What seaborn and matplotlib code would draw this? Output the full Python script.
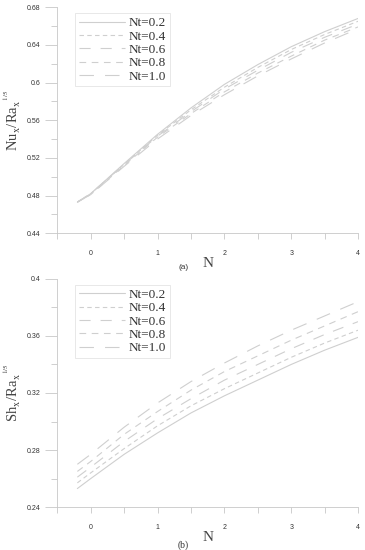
import pandas as pd
import numpy as np
import matplotlib
matplotlib.use('Agg')
import matplotlib.pyplot as plt
from matplotlib.ticker import MultipleLocator, FuncFormatter
import seaborn as sns

# Data
N = [-0.2, 0, 0.5, 1, 1.5, 2, 2.5, 3, 3.5, 4]
nt_labels = ['Nt=0.2', 'Nt=0.4', 'Nt=0.6', 'Nt=0.8', 'Nt=1.0']

# panel (a): Nu_x / Ra_x^(1/5)
nu_02 = [0.473, 0.482, 0.514, 0.545, 0.573, 0.598, 0.619, 0.638, 0.654, 0.668]
nu_04 = [0.473, 0.482, 0.513, 0.544, 0.571, 0.595, 0.616, 0.635, 0.651, 0.665]
nu_06 = [0.473, 0.482, 0.513, 0.543, 0.569, 0.593, 0.613, 0.632, 0.648, 0.662]
nu_08 = [0.473, 0.481, 0.512, 0.542, 0.567, 0.590, 0.610, 0.628, 0.645, 0.659]
nu_10 = [0.473, 0.481, 0.511, 0.540, 0.565, 0.587, 0.607, 0.625, 0.642, 0.657]

# panel (b): Sh_x / Ra_x^(1/5)
sh_02 = [0.253, 0.260, 0.277, 0.292, 0.306, 0.318, 0.329, 0.340, 0.350, 0.359]
sh_04 = [0.257, 0.264, 0.281, 0.297, 0.311, 0.323, 0.334, 0.345, 0.355, 0.364]
sh_06 = [0.261, 0.268, 0.286, 0.302, 0.316, 0.329, 0.340, 0.351, 0.361, 0.370]
sh_08 = [0.265, 0.272, 0.291, 0.307, 0.322, 0.335, 0.346, 0.357, 0.367, 0.377]
sh_10 = [0.270, 0.277, 0.296, 0.313, 0.328, 0.341, 0.353, 0.364, 0.374, 0.384]


def long_form(series):
    rows = []
    for lab, vals in zip(nt_labels, series):
        for x, y in zip(N, vals):
            rows.append({'N': x, 'val': y, 'Nt': lab})
    return pd.DataFrame(rows)


df_a = long_form([nu_02, nu_04, nu_06, nu_08, nu_10])
df_b = long_form([sh_02, sh_04, sh_06, sh_08, sh_10])

sns.set_style('ticks')
plt.rcParams['mathtext.fontset'] = 'stix'

line_col = '#cfcfcf'
spine_col = '#c8c8c8'
palette = {lab: line_col for lab in nt_labels}
dashes = {'Nt=0.2': '', 'Nt=0.4': (4, 3), 'Nt=0.6': (10, 9),
          'Nt=0.8': (6, 5), 'Nt=1.0': (13, 10)}
serif = ['Liberation Serif', 'DejaVu Serif']
sans = ['Liberation Sans', 'DejaVu Sans']

fig = plt.figure(figsize=(3.65, 5.5), dpi=100)
ax_a = fig.add_axes([0.157, 0.576, 0.824, 0.411])
ax_b = fig.add_axes([0.157, 0.078, 0.824, 0.415])

short = FuncFormatter(lambda v, pos: ('%.2f' % v).rstrip('0').rstrip('.'))


def style_axis(ax, df, ylim, ystep, ylabel, tag, tag_family, tag_size, tag_y):
    sns.lineplot(data=df, x='N', y='val', hue='Nt', style='Nt',
                 palette=palette, dashes=dashes, linewidth=0.8, ax=ax)
    ax.set_xlim(-0.5, 4)
    ax.set_ylim(*ylim)
    ax.xaxis.set_major_locator(MultipleLocator(1))
    ax.xaxis.set_minor_locator(MultipleLocator(0.5))
    ax.yaxis.set_major_locator(MultipleLocator(ystep))
    ax.yaxis.set_minor_locator(MultipleLocator(ystep / 2))
    ax.yaxis.set_major_formatter(short)
    for s in ['top', 'right']:
        ax.spines[s].set_visible(False)
    for s in ['left', 'bottom']:
        ax.spines[s].set_color(spine_col)
        ax.spines[s].set_linewidth(0.6)
    ax.tick_params(axis='y', which='major', length=9, width=0.6,
                   color=spine_col, labelsize=5, labelcolor='#333333', pad=3)
    ax.tick_params(axis='y', which='minor', length=4, width=0.6, color=spine_col)
    ax.tick_params(axis='x', which='major', length=4, width=0.6,
                   color=spine_col, labelsize=5, labelcolor='#333333', pad=8)
    ax.tick_params(axis='x', which='minor', length=4, width=0.6, color=spine_col)
    for lab in ax.get_xticklabels() + ax.get_yticklabels():
        lab.set_family(sans)
    ax.set_xlabel('N', family=serif, fontsize=11, color='#444444', labelpad=-1)
    ax.xaxis.set_label_coords(0.5, -0.105)
    ax.set_ylabel(ylabel, family=serif, fontsize=10.5, color='#444444')
    ax.yaxis.set_label_coords(-0.115, 0.5)
    leg = ax.legend(loc='upper left', bbox_to_anchor=(0.05, 0.985),
                    prop={'family': serif, 'size': 9.5}, handlelength=3.5,
                    handletextpad=0.3, labelspacing=0.08, borderpad=0.3,
                    borderaxespad=0.2, fancybox=False, frameon=True)
    leg.get_frame().set_edgecolor('#dddddd')
    leg.get_frame().set_linewidth(0.6)
    for t in leg.get_texts():
        t.set_color('#333333')
    ax.text(0.42, tag_y, tag, transform=ax.transAxes, ha='center',
            va='center', fontsize=tag_size, color='#333333', family=tag_family)


style_axis(ax_a, df_a, (0.44, 0.68), 0.04,
           r'Nu$_{\mathrm{x}}$/Ra$_{\mathrm{x}}{}^{{}^{1/5}}$', '(a)',
           sans, 6, -0.15)
style_axis(ax_b, df_b, (0.24, 0.4), 0.04,
           r'Sh$_{\mathrm{x}}$/Ra$_{\mathrm{x}}{}^{{}^{1/5}}$', '(b)',
           serif, 7, -0.167)

fig.savefig('out.png', dpi=100)
